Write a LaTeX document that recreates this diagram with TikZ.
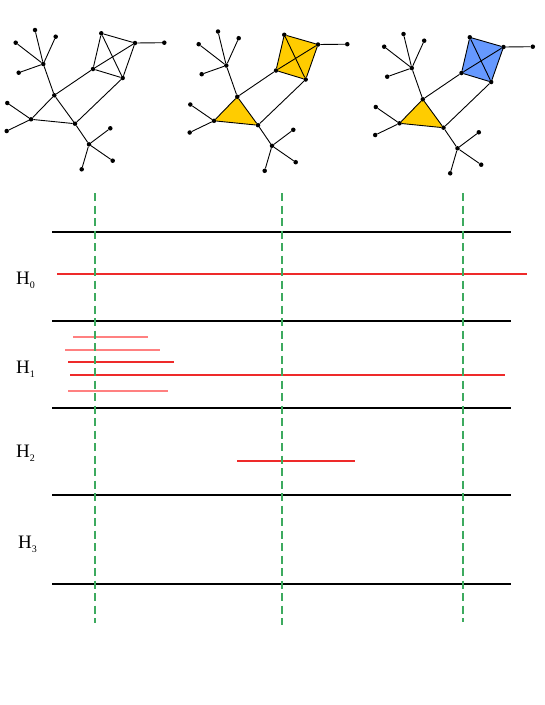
\documentclass[tikz,border=0pt]{standalone}
\usepackage{fontspec}
\setmainfont{Liberation Serif}
\usepackage{tikz}
\usetikzlibrary{backgrounds}
\usepackage{xcolor}
\definecolor{barred}{HTML}{EE2A2A}
\definecolor{barpink}{HTML}{FF8080}
\definecolor{cutgreen}{HTML}{3DAA5F}
\definecolor{cellyellow}{HTML}{FFCC00}
\definecolor{cellblue}{HTML}{6699FF}

\tikzset{
  vtx/.style={circle, fill=black, inner sep=0pt, minimum size=4.5pt},
  link/.style={line width=0.9pt},
  level/.style={line width=1.8pt},
  persbar/.style={line width=1.3pt, draw=barred},
  softbar/.style={line width=1.3pt, draw=barpink},
  cut/.style={line width=1.6pt, cutgreen, dash pattern=on 8pt off 4.5pt},
  hlab/.style={anchor=base west, inner sep=0pt, font=\fontsize{19}{19}\selectfont}
}

\newcommand{\hsub}[1]{H\raisebox{-4pt}{\fontsize{10}{10}\selectfont #1}}

% one copy of the graph: name, shift, colour of triangle, colour of K4
\newcommand{\filtgraph}[5]{
  \begin{scope}[shift={(#2,#3)}]
    \node[vtx] (#1-a) at (35,30) {};
    \node[vtx] (#1-b) at (55.7,36.7) {};
    \node[vtx] (#1-c) at (15.7,42.7) {};
    \node[vtx] (#1-d) at (43.3,64) {};
    \node[vtx] (#1-e) at (18.7,72.7) {};
    \node[vtx] (#1-f) at (54.3,95.3) {};
    \node[vtx] (#1-g) at (7.3,103) {};
    \node[vtx] (#1-h) at (31,119.3) {};
    \node[vtx] (#1-i) at (6.7,131) {};
    \node[vtx] (#1-j) at (75,123.7) {};
    \node[vtx] (#1-k) at (89,144.3) {};
    \node[vtx] (#1-l) at (110.3,128.3) {};
    \node[vtx] (#1-m) at (112.7,160.7) {};
    \node[vtx] (#1-n) at (81.7,169.3) {};
    \node[vtx] (#1-p) at (101.3,33.3) {};
    \node[vtx] (#1-q) at (135,43) {};
    \node[vtx] (#1-r) at (93,69) {};
    \node[vtx] (#1-s) at (122.7,78) {};
    \node[vtx] (#1-t) at (164.3,42.7) {};
  \end{scope}
  \begin{scope}[on background layer]
    \fill[fill=#4] (#1-f.center) -- (#1-h.center) -- (#1-j.center) -- cycle;
    \fill[fill=#5] (#1-p.center) -- (#1-q.center) -- (#1-s.center) -- (#1-r.center) -- cycle;
  \end{scope}
  \foreach \u/\v in {a/d,b/d,c/d,e/d,d/f,f/h,f/j,h/j,g/h,i/h,j/k,k/l,k/m,k/n,f/r,j/s,p/q,p/r,p/s,q/r,q/s,r/s,q/t}
    \draw[link] (#1-\u) -- (#1-\v);
}

\begin{document}
\begin{tikzpicture}[x=1pt, y=-1pt]
  \useasboundingbox (0,0) rectangle (545,705);

  % the three stages
  \filtgraph{ga}{0}{0}{none}{none}
  \filtgraph{gb}{183}{1.5}{cellyellow}{cellyellow}
  \filtgraph{gc}{368.5}{4}{cellyellow}{cellblue}

  % rows of the barcode
  \foreach \y in {232,321,408,495,584}
    \draw[level] (52,\y) -- (511,\y);

  \node[hlab] (h0) at (16,284) {\hsub{0}};
  \node[hlab] (h1) at (16,373) {\hsub{1}};
  \node[hlab] (h2) at (16,457) {\hsub{2}};
  \node[hlab] (h3) at (18,548) {\hsub{3}};

  % bars
  \draw[persbar] (57,274) -- (527,274);
  \draw[softbar] (73,337) -- (148,337);
  \draw[softbar] (65,350) -- (160,350);
  \draw[persbar] (68,362) -- (174,362);
  \draw[persbar] (70,375) -- (505,375);
  \draw[softbar] (68,391) -- (168,391);
  \draw[persbar] (237,461) -- (355,461);

  % filtration values
  \draw[cut] (95,193) -- (95,623);
  \draw[cut] (282,193) -- (282,625);
  \draw[cut] (463,193) -- (463,622);
\end{tikzpicture}
\end{document}
